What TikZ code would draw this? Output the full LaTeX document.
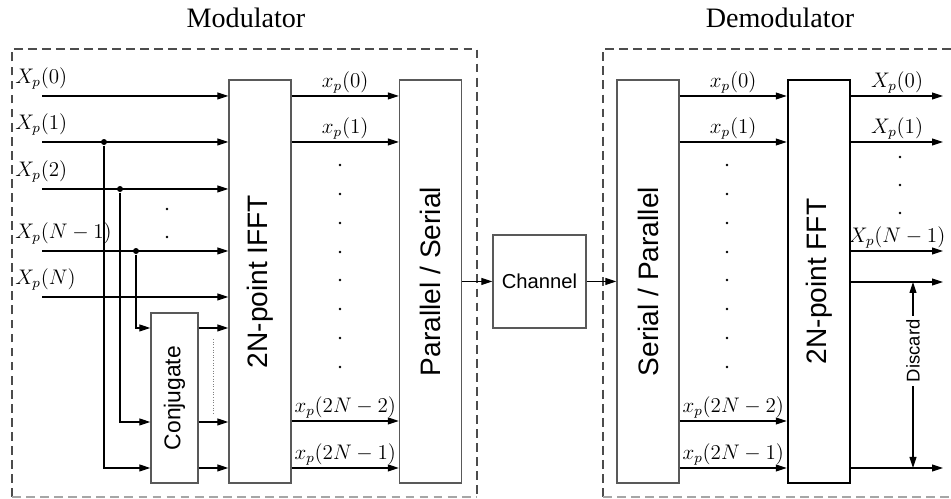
\documentclass[tikz,border=0pt]{standalone}
\usepackage{amsmath}
\usepackage{fontspec}
\setmainfont{Liberation Serif}
\setsansfont{Liberation Sans}
\usetikzlibrary{arrows.meta,positioning,calc}

\begin{document}
\begin{tikzpicture}[
    x=0.02cm, y=-0.02cm,
    line width=0.6pt,
    block/.style={rectangle, draw=black!65, line width=0.8pt, fill=white, minimum width=1.24cm, minimum height=8.06cm, inner sep=0pt, font=\sffamily\fontsize{16}{16}\selectfont},
    dashframe/.style={draw=black!70, dash pattern=on 5pt off 3pt, line width=0.6pt},
    arrow/.style={-{Triangle[length=2.2mm,width=1.4mm]}},
    sig/.style={font=\fontsize{12}{12}\selectfont, inner sep=1pt},
    dot/.style={circle, fill, inner sep=0pt, minimum size=3.4pt},
    vdot/.style={circle, fill, inner sep=0pt, minimum size=1.6pt},
    heading/.style={font=\fontsize{16}{16}\selectfont}
]
\useasboundingbox (0,0) rectangle (951,499);

% Dashed frames
\draw[dashframe] (12,497) |- (477,49) -- (477,497);
\draw[dashframe, draw=black!35] (12,497) -- (477,497);
\draw[dashframe] (951,49) -| (603,497);
\draw[dashframe, draw=black!35] (603,497) -- (951,497);

\node[heading] (modtitle) at (246,18) {Modulator};
\node[heading] (demodtitle) at (780,18) {Demodulator};

% Blocks
\node[block] (ifft) at (260,281.5) {\rotatebox{90}{2N-point IFFT}};
\node[block] (ps) at (430.5,281.5) {\rotatebox{90}{Parallel / Serial}};
\node[block, minimum width=1.86cm, minimum height=1.86cm, font=\sffamily\fontsize{11.5}{11.5}\selectfont] (chan) at (539.5,281.5) {Channel};
\node[block] (sp) at (648,281.5) {\rotatebox{90}{Serial / Parallel}};
\node[block, draw=black, line width=1.4pt] (fft) at (819,281.5) {\rotatebox{90}{2N-point FFT}};
\node[block, minimum width=0.94cm, minimum height=3.4cm, font=\sffamily\fontsize{13}{13}\selectfont] (conj) at (174.5,398) {\rotatebox{90}{Conjugate}};

% Inputs to the IFFT
\foreach \i/\y/\t in {0/96/0, 1/142/1, 2/189/2, 3/251/N-1, 4/297/N} {
  \coordinate (in\i) at (42,\y);
  \node[sig, anchor=south west] (lx\i) at (13,\y-4) {$X_p(\t)$};
  \draw[arrow] (in\i) -- (in\i -| ifft.west);
}
\foreach \y in {209,237} \node[vdot] at (167,\y) {};

% Taps to the conjugate block
\node[dot] (j1) at (104,142) {};
\node[dot] (j2) at (120,189) {};
\node[dot] (j3) at (136,251) {};
\foreach \j/\y in {j1/468, j2/422, j3/328} {
  \draw[arrow] (\j) |- (conj.west |- 0,\y);
  \draw[arrow] (conj.east |- 0,\y) -- (ifft.west |- 0,\y);
}
\draw[gray, densely dotted, line width=0.5pt] (213,339) -- (213,415);

% Parallel branches
\foreach \y/\t in {96/0, 142/1, 421/2N-2, 468/2N-1} {
  \draw[arrow] (ifft.east |- 0,\y) -- node[sig, above] {$x_p(\t)$} (ps.west |- 0,\y);
  \draw[arrow] (sp.east |- 0,\y) -- node[sig, above] {$x_p(\t)$} (fft.west |- 0,\y);
}
\foreach \y in {165,194,223,252,280,309,338,367} {
  \node[vdot] at (340,\y) {};
  \node[vdot] at (727,\y) {};
}

% Channel
\draw[arrow] (ps) -- (chan);
\draw[arrow] (chan) -- (sp);

% FFT outputs
\foreach \k/\y/\t in {0/96/0, 1/142/1, 2/251/N-1} {
  \coordinate (out\k) at (943,\y);
  \draw[arrow] (fft.east |- out\k) -- node[sig, above] {$X_p(\t)$} (out\k);
}
\foreach \y in {157,185,213} \node[vdot] at (900,\y) {};
\coordinate (d1) at (943,282);
\coordinate (d2) at (943,468);
\draw[arrow] (fft.east |- d1) -- (d1);
\draw[arrow] (fft.east |- d2) -- (d2);
\coordinate (dtop) at (913,282);
\coordinate (dbot) at (913,468);
\draw[{Triangle[length=2.2mm,width=1.4mm]}-{Triangle[length=2.2mm,width=1.4mm]}] (dtop) -- node[pos=0.37, fill=white, inner sep=2pt, rotate=90, font=\sffamily\fontsize{10.5}{10.5}\selectfont] {Discard} (dbot);

\end{tikzpicture}
\end{document}
